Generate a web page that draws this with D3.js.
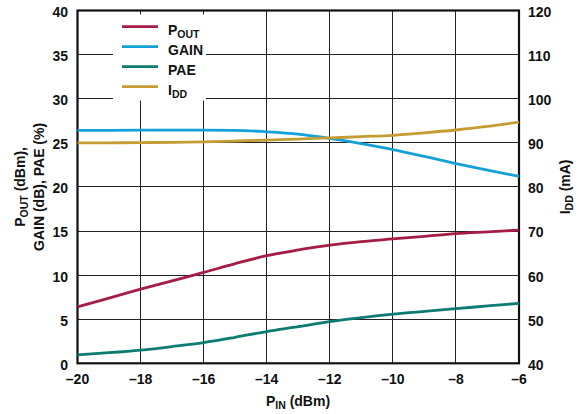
<!DOCTYPE html>
<html>
<head>
<meta charset="utf-8">
<script src="https://cdn.jsdelivr.net/npm/d3@7"></script>
<style>
  html, body { margin: 0; padding: 0; background: #fff; }
  svg { display: block; }
  text { font-family: "Liberation Sans", Arial, Helvetica, sans-serif; font-weight: bold; fill: #111; }
</style>
</head>
<body>
<svg id="chart" width="588" height="414"></svg>
<script>
// ---- data ----
const pin  = [-20, -19, -18, -17, -16, -15, -14, -13, -12, -11, -10, -9, -8, -7, -6];
const pout = [6.4, 7.4, 8.4, 9.35, 10.3, 11.3, 12.2, 12.85, 13.4, 13.8, 14.1, 14.4, 14.7, 14.9, 15.1];
const gain = [26.4, 26.42, 26.43, 26.43, 26.43, 26.42, 26.25, 25.98, 25.5, 24.9, 24.24, 23.45, 22.65, 21.9, 21.2];
const pae  = [0.95, 1.2, 1.5, 1.9, 2.35, 2.95, 3.6, 4.15, 4.73, 5.18, 5.57, 5.88, 6.2, 6.5, 6.8];
const idd  = [90.0, 90.0, 90.05, 90.1, 90.2, 90.4, 90.6, 90.85, 91.1, 91.4, 91.7, 92.25, 92.9, 93.7, 94.7];

const xTicks = [-20, -18, -16, -14, -12, -10, -8, -6];
const yLeftTicks = [0, 5, 10, 15, 20, 25, 30, 35, 40];
const yRightTicks = [40, 50, 60, 70, 80, 90, 100, 110, 120];

const seriesNames = ["P", "GAIN", "PAE", "I"];
const seriesSubs  = ["OUT", "", "", "DD"];
const colors = ["#A51C45", "#14A0D8", "#0B7C71", "#C59B33"];

// ---- layout ----
const svg = d3.select("#chart");
const L = 77.5, R = 519, T = 10.5, B = 363.3;

const x = d3.scaleLinear().domain([-20, -6]).range([L, R]);
const yL = d3.scaleLinear().domain([0, 40]).range([B, T]);
const yR = d3.scaleLinear().domain([40, 120]).range([B, T]);

// grid
const grid = svg.append("g").attr("stroke", "#222").attr("stroke-width", 1).attr("shape-rendering", "crispEdges");
xTicks.forEach(t => grid.append("line").attr("x1", x(t)).attr("x2", x(t)).attr("y1", T).attr("y2", B));
yLeftTicks.forEach(t => grid.append("line").attr("x1", L).attr("x2", R).attr("y1", yL(t)).attr("y2", yL(t)));

// legend background (covers grid)
svg.append("rect").attr("x", 113).attr("y", 14.5).attr("width", 93).attr("height", 86).attr("fill", "#fff");

// frame
svg.append("rect").attr("x", L).attr("y", T).attr("width", R - L).attr("height", B - T)
  .attr("fill", "none").attr("stroke", "#111").attr("stroke-width", 2.2);

// curves
const mk = (arr, ys) => d3.line().x((d, i) => x(pin[i])).y(d => ys(d)).curve(d3.curveMonotoneX)(arr);
const curves = [[pout, yL], [gain, yL], [pae, yL], [idd, yR]];
curves.forEach(([arr, ys], k) => {
  svg.append("path").attr("d", mk(arr, ys)).attr("fill", "none")
    .attr("stroke", colors[k]).attr("stroke-width", 2.8).attr("stroke-linejoin", "round");
});

// tick labels
yLeftTicks.forEach(t => svg.append("text").attr("x", 68).attr("y", yL(t) + 1.5).attr("dy", "0.35em")
  .attr("text-anchor", "end").attr("font-size", 14).text(t));
yRightTicks.forEach(t => svg.append("text").attr("x", 528).attr("y", yR(t) + 1.5).attr("dy", "0.35em")
  .attr("text-anchor", "start").attr("font-size", 14).text(t));
xTicks.forEach(t => svg.append("text").attr("x", x(t)).attr("y", 384)
  .attr("text-anchor", "middle").attr("font-size", 14).text(String(t).replace("-", "\u2013")));

// legend
seriesNames.forEach((n, i) => {
  const yy = 26.7 + 20 * i;
  svg.append("line").attr("x1", 122).attr("x2", 158).attr("y1", yy).attr("y2", yy)
    .attr("stroke", colors[i]).attr("stroke-width", 2.8);
  const t = svg.append("text").attr("x", 168).attr("y", yy + 8.3).attr("font-size", 14);
  t.append("tspan").text(n);
  if (seriesSubs[i]) t.append("tspan").attr("font-size", 10.5).attr("dy", 3).text(seriesSubs[i]);
});

// axis titles
const xt = svg.append("text").attr("x", 298).attr("y", 406).attr("text-anchor", "middle").attr("font-size", 14);
xt.append("tspan").text("P");
xt.append("tspan").attr("font-size", 10.5).attr("dy", 3).text("IN");
xt.append("tspan").attr("dy", -3).text(" (dBm)");

const cy = (T + B) / 2;
const yt1 = svg.append("text").attr("transform", `translate(25,${cy}) rotate(-90)`).attr("text-anchor", "middle").attr("font-size", 14);
yt1.append("tspan").text("P");
yt1.append("tspan").attr("font-size", 10.5).attr("dy", 3).text("OUT");
yt1.append("tspan").attr("dy", -3).text(" (dBm),");

svg.append("text").attr("transform", `translate(44,${cy}) rotate(-90)`).attr("text-anchor", "middle")
  .attr("font-size", 14).text("GAIN (dB), PAE (%)");

const yt3 = svg.append("text").attr("transform", `translate(570,${cy}) rotate(-90)`).attr("text-anchor", "middle").attr("font-size", 14);
yt3.append("tspan").text("I");
yt3.append("tspan").attr("font-size", 10.5).attr("dy", 3).text("DD");
yt3.append("tspan").attr("dy", -3).text(" (mA)");
</script>
</body>
</html>
